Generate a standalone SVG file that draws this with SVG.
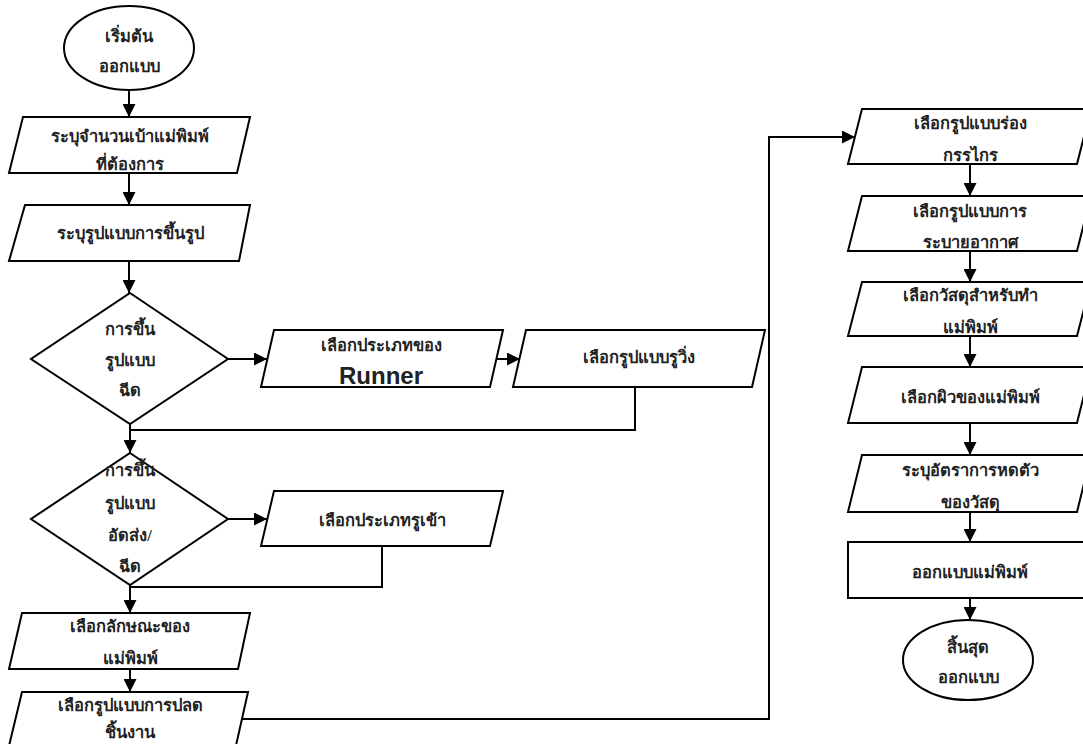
<svg xmlns="http://www.w3.org/2000/svg" width="1083" height="744" viewBox="0 0 1083 744">
<style>
.s{fill:#fff;stroke:#000;stroke-width:2}
.t{font-family:"Liberation Serif","Noto Sans",serif;font-weight:bold;font-size:16.5px;text-anchor:middle;dominant-baseline:central;fill:#222}
.r{font-family:"Liberation Sans",Arial,sans-serif;font-weight:bold;font-size:24px;text-anchor:middle;fill:#222}
.c{fill:none;stroke:#000;stroke-width:2}
</style>
<defs>
<marker id="a" viewBox="0 0 12 12" refX="12" refY="6" markerWidth="13" markerHeight="13" markerUnits="userSpaceOnUse" orient="auto">
<path d="M0,0 L12,6 L0,12 Z" fill="#000"/>
</marker>
</defs>
<g id="connectors">
<path class="c" d="M129,90 V117" marker-end="url(#a)"/>
<path class="c" d="M129,173 V205" marker-end="url(#a)"/>
<path class="c" d="M129,261 V293" marker-end="url(#a)"/>
<path class="c" d="M228,359 H267" marker-end="url(#a)"/>
<path class="c" d="M496,359 H520" marker-end="url(#a)"/>
<path class="c" d="M635,387 V430 H130"/>
<path class="c" d="M130,424 V453" marker-end="url(#a)"/>
<path class="c" d="M228,519 H267" marker-end="url(#a)"/>
<path class="c" d="M382,546 V587 H130"/>
<path class="c" d="M130,585 V613" marker-end="url(#a)"/>
<path class="c" d="M130,669 V692" marker-end="url(#a)"/>
<path class="c" d="M242,719 H769 V137 H855" marker-end="url(#a)"/>
<path class="c" d="M970,164 V196" marker-end="url(#a)"/>
<path class="c" d="M970,251 V282" marker-end="url(#a)"/>
<path class="c" d="M970,336 V367" marker-end="url(#a)"/>
<path class="c" d="M970,423 V455" marker-end="url(#a)"/>
<path class="c" d="M970,512 V542" marker-end="url(#a)"/>
<path class="c" d="M970,598 V620" marker-end="url(#a)"/>
</g>
<g id="start">
<ellipse class="s" cx="129" cy="48" rx="65" ry="42"/>
<text class="t" x="129" y="36">เริ่มต้น</text>
<text class="t" x="129" y="66">ออกแบบ</text>
</g>
<g id="n1">
<polygon class="s" points="23,117 250,117 237,173 9,173"/>
<text class="t" x="130" y="136">ระบุจำนวนเบ้าแม่พิมพ์</text>
<text class="t" x="130" y="164">ที่ต้องการ</text>
</g>
<g id="n2">
<polygon class="s" points="25,205 250,205 239,261 9,261"/>
<text class="t" x="130" y="233">ระบุรูปแบบการขึ้นรูป</text>
</g>
<g id="d1">
<polygon class="s" points="130,293 228,359 130,424 31,359"/>
<text class="t" x="130" y="329">การขึ้น</text>
<text class="t" x="130" y="360">รูปแบบ</text>
<text class="t" x="130" y="390">ฉีด</text>
</g>
<g id="n3">
<polygon class="s" points="274,330 503,330 490,387 261,387"/>
<text class="t" x="381" y="345">เลือกประเภทของ</text>
<text class="r" x="381" y="384">Runner</text>
</g>
<g id="n4">
<polygon class="s" points="526,330 765,330 752,387 513,387"/>
<text class="t" x="639" y="357">เลือกรูปแบบรูวิ่ง</text>
</g>
<g id="d2">
<polygon class="s" points="130,453 228,519 130,585 31,519"/>
<text class="t" x="130" y="470">การขึ้น</text>
<text class="t" x="130" y="503">รูปแบบ</text>
<text class="t" x="130" y="535">อัดส่ง/</text>
<text class="t" x="130" y="566">ฉีด</text>
</g>
<g id="n5">
<polygon class="s" points="274,491 503,491 490,546 261,546"/>
<text class="t" x="382" y="520">เลือกประเภทรูเข้า</text>
</g>
<g id="n6">
<polygon class="s" points="22,613 250,613 238,669 9,669"/>
<text class="t" x="130" y="626">เลือกลักษณะของ</text>
<text class="t" x="130" y="658">แม่พิมพ์</text>
</g>
<g id="n7">
<polygon class="s" points="22,692 248,692 235,750 8,750"/>
<text class="t" x="130" y="705">เลือกรูปแบบการปลด</text>
<text class="t" x="130" y="732">ชิ้นงาน</text>
</g>
<g id="r1">
<polygon class="s" points="862,109 1091,109 1077,164 848,164"/>
<text class="t" x="970" y="123">เลือกรูปแบบร่อง</text>
<text class="t" x="970" y="155">กรรไกร</text>
</g>
<g id="r2">
<polygon class="s" points="862,196 1091,196 1077,251 848,251"/>
<text class="t" x="970" y="211">เลือกรูปแบบการ</text>
<text class="t" x="970" y="242">ระบายอากาศ</text>
</g>
<g id="r3">
<polygon class="s" points="862,282 1091,282 1077,336 848,336"/>
<text class="t" x="970" y="295">เลือกวัสดุสำหรับทำ</text>
<text class="t" x="970" y="327">แม่พิมพ์</text>
</g>
<g id="r4">
<polygon class="s" points="862,367 1091,367 1077,423 848,423"/>
<text class="t" x="970" y="397">เลือกผิวของแม่พิมพ์</text>
</g>
<g id="r5">
<polygon class="s" points="862,455 1091,455 1077,512 848,512"/>
<text class="t" x="970" y="470">ระบุอัตราการหดตัว</text>
<text class="t" x="970" y="502">ของวัสดุ</text>
</g>
<g id="r6">
<rect class="s" x="848" y="542" width="244" height="56"/>
<text class="t" x="970" y="572">ออกแบบแม่พิมพ์</text>
</g>
<g id="end">
<ellipse class="s" cx="968" cy="660" rx="65" ry="40"/>
<text class="t" x="968" y="647">สิ้นสุด</text>
<text class="t" x="968" y="677">ออกแบบ</text>
</g>
</svg>
